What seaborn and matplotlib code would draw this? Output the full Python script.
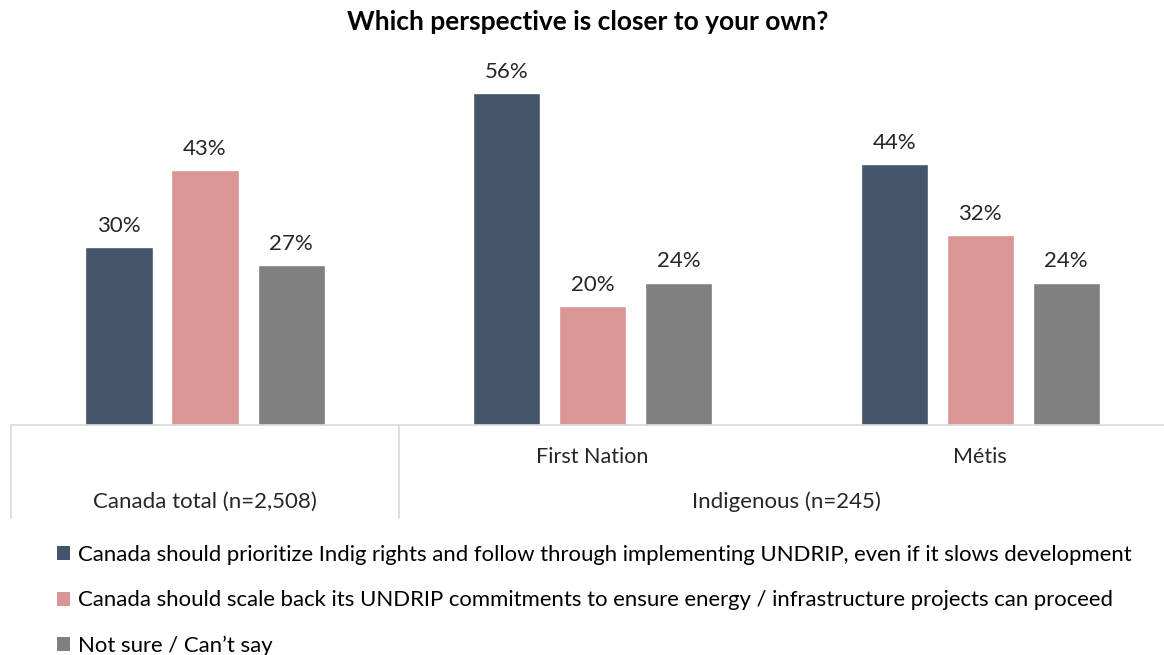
import matplotlib
matplotlib.use("Agg")
import matplotlib.pyplot as plt
import seaborn as sns
import pandas as pd
from matplotlib.patches import Patch
from matplotlib.lines import Line2D

groups = ["Canada total", "First Nation", "Métis"]
series = [
    "Canada should prioritize Indig rights and follow through implementing UNDRIP, even if it slows development",
    "Canada should scale back its UNDRIP commitments to ensure energy / infrastructure projects can proceed",
    "Not sure / Can\u2019t say",
]
prioritize = [30, 56, 44]
scale_back = [43, 20, 32]
not_sure = [27, 24, 24]
tick_labels = ["", "First Nation", "Métis"]
group_labels = ["Canada total (n=2,508)", "Indigenous (n=245)"]
colors = ["#44546A", "#DA9694", "#808080"]

rows = []
for s, vals in zip(series, [prioritize, scale_back, not_sure]):
    for g, v in zip(groups, vals):
        rows.append({"group": g, "series": s, "value": v})
df = pd.DataFrame(rows)

sns.set_theme(style="white")
plt.rcParams["font.family"] = ["Lato", "DejaVu Sans"]
fig = plt.figure(figsize=(11.64, 6.55), dpi=100)
ax = fig.add_axes([11.25 / 1164, 230 / 655, 1162.75 / 1164, 356 / 655])

sns.barplot(data=df, x="group", y="value", hue="series", palette=colors,
            width=0.666, gap=0.22, ax=ax, legend=False, saturation=1)
ax.set_xlim(-0.5, 2.5)
ax.set_ylim(0, 60)
for c in ax.containers:
    ax.bar_label(c, labels=[f"{int(v)}%" for v in c.datavalues], padding=8,
                 fontsize=16, color="#262626")

for sp in ["top", "right", "left"]:
    ax.spines[sp].set_visible(False)
ax.spines["bottom"].set_color("#d9d9d9")
ax.spines["bottom"].set_linewidth(1.2)
ax.set_yticks([])
ax.set_ylabel("")
ax.set_xlabel("")
ax.set_xticks([0, 1, 2])
ax.set_xticklabels(tick_labels, fontsize=15.5, color="#262626")
ax.tick_params(axis="x", length=0, pad=16)

# separators
for xv in [-0.5, 0.5]:
    ax.add_line(Line2D([xv, xv], [0, -93 / 356], transform=ax.get_xaxis_transform(),
                       color="#d9d9d9", lw=1.2, clip_on=False))
for xv, lab in zip([0, 1.5], group_labels):
    ax.text(xv, -77 / 356, lab, transform=ax.get_xaxis_transform(), ha="center",
            va="center", fontsize=16, color="#262626")

fig.text(0.505, 1 - 22 / 655, "Which perspective is closer to your own?", ha="center",
         va="center", fontsize=19, fontweight="bold", color="#000000")

handles = [Patch(facecolor=c, edgecolor="none") for c in colors]
fig.legend(handles, series, loc="upper left", bbox_to_anchor=(57 / 1164, 1 - 545 / 655),
           frameon=False, fontsize=15.9, handlelength=0.6, handleheight=0.6,
           handletextpad=0.35, labelspacing=1.15, borderaxespad=0, borderpad=0,
           labelcolor="#000000")

fig.savefig("out.png", dpi=100)
